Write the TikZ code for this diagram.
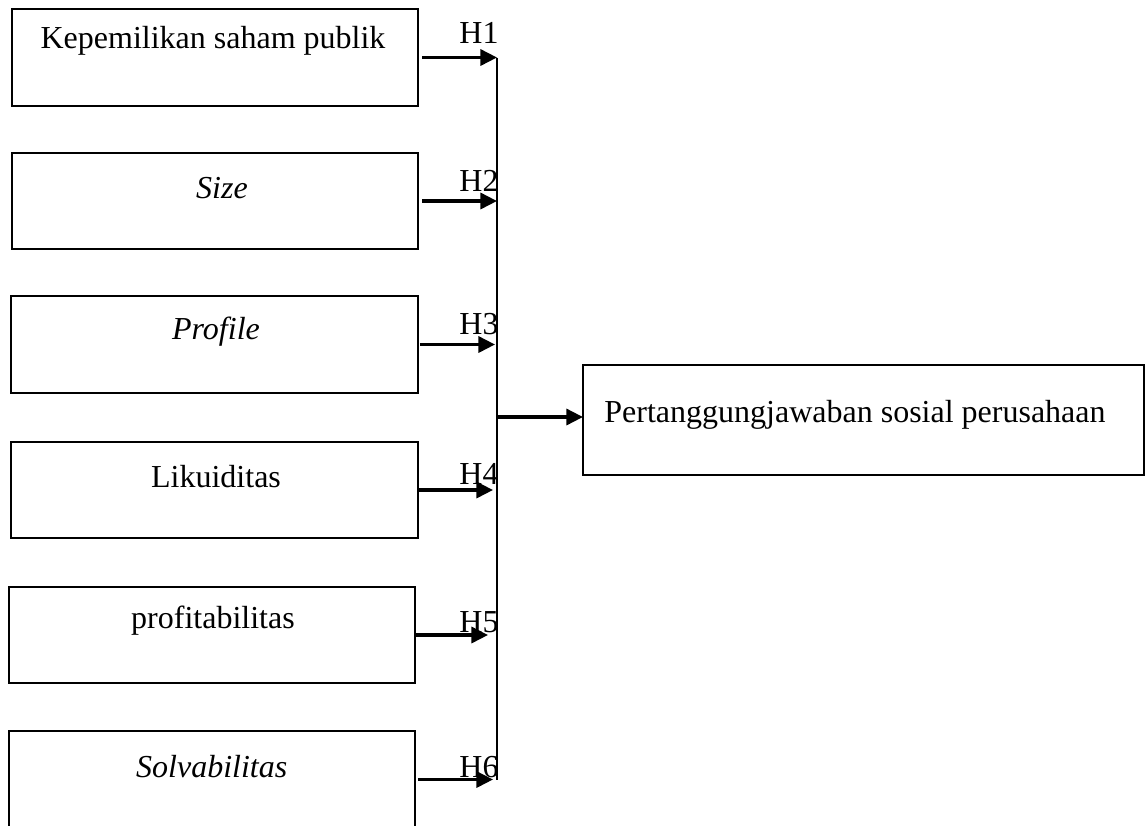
\documentclass[tikz,border=0pt]{standalone}
\usepackage{fontspec}
\setmainfont{Liberation Serif}
\usetikzlibrary{calc}
\usetikzlibrary{positioning}
\usetikzlibrary{arrows.meta}
\tikzset{
  varbox/.style={draw, line width=0.8pt, inner sep=0pt, outer sep=0pt,
    minimum width=152.25pt, minimum height=36.2pt},
  txt/.style={inner sep=0pt, font=\fontsize{12}{14}\selectfont},
  hyp/.style={inner sep=0pt, font=\fontsize{12}{14}\selectfont},
  arr/.style={line width=1.2pt, -{Triangle[length=6.2pt,width=6pt]}},
  spineline/.style={line width=1pt}
}

\begin{document}
\begin{tikzpicture}[x=0.375pt, y=-0.375pt]
  \useasboundingbox (0,0) rectangle (1148,825);

  % independent variables
  \node [varbox] (b1) at (215,57.5) {};
  \node [varbox] (b2) at (215,201) {};
  \node [varbox, minimum width=152.6pt] (b3) at (214.5,344.5) {};
  \node [varbox, minimum width=152.6pt] (b4) at (214.5,490) {};
  \node [varbox] (b5) at (212,635) {};
  \node [varbox, minimum height=36.4pt] (b6) at (211.75,779.5) {};

  \node [txt] (t1) at ($(b1.north)+(-2,32)$) {Kepemilikan saham publik};
  \node [txt] (t2) at ($(b2.north)+(7,35)$) {\textit{Size}};
  \node [txt] (t3) at ($(b3.north)+(1.5,35)$) {\textit{Profile}};
  \node [txt] (t4) at ($(b4.north)+(1.5,35)$) {Likuiditas};
  \node [txt] (t5) at ($(b5.north)+(1,34)$) {profitabilitas};
  \node [txt] (t6) at ($(b6.north)+(0,36)$) {\textit{Solvabilitas}};

  % dependent variable
  \node [varbox, minimum width=210.4pt, minimum height=41.25pt] (tgt) at (863.5,420) {};
  \node [txt] (tt) at ($(tgt.north)+(-8.5,50)$) {Pertanggungjawaban sosial perusahaan};

  \coordinate (spine) at (497,417);
  \draw [spineline] (spine |- b1.east) -- (spine |- b6.east);

  \foreach \b/\s/\e/\dy/\h in {b1/4/0/-25/H1, b2/4/0/-20/H2, b3/2/2/-20/H3,
                               b4/0/4/-16/H4, b5/1/9/-13/H5, b6/3/4/-12/H6} {
    \draw [arr, shorten <=\s*0.375pt, shorten >=\e*0.375pt] (\b.east) -- (\b.east -| spine);
    \node [hyp] (\h) at ($(\b.east -| spine)+(-18,\dy)$) {\h};
  }

  \draw [arr] (spine) -- (spine -| tgt.west);
\end{tikzpicture}
\end{document}
